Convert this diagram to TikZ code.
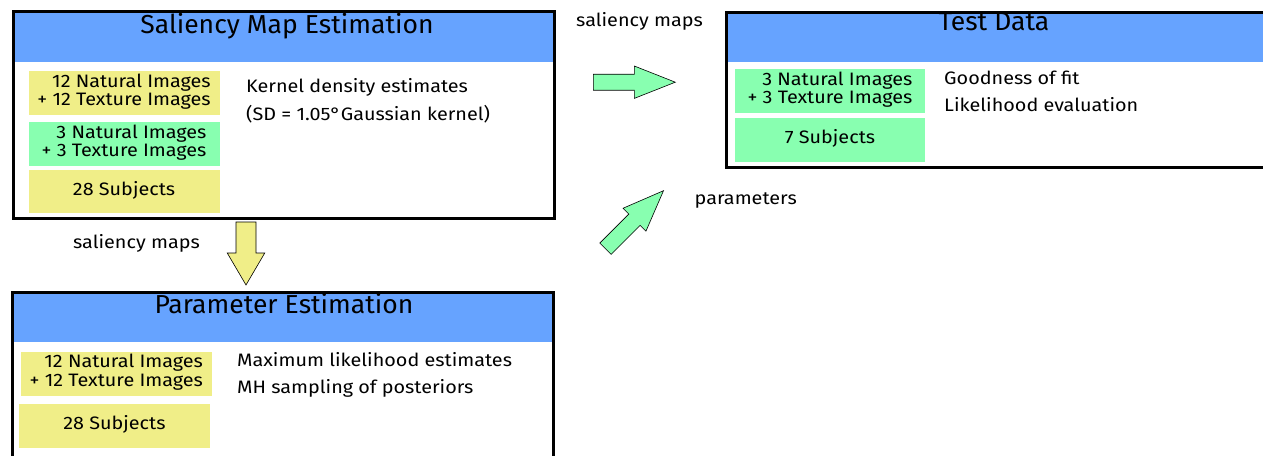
\documentclass[tikz,border=0pt]{standalone}
\usepackage{fontspec}
\setmainfont{Fira Sans}[FakeStretch=1.1]
\newfontfamily\titlefont{Fira Sans}[FakeStretch=1.02]
\definecolor{hdr}{RGB}{102,163,255}
\definecolor{ylw}{RGB}{240,238,136}
\definecolor{grn}{RGB}{136,255,176}
\begin{document}
\begin{tikzpicture}[x=1pt,y=-1pt,
  frame/.style={draw=black, line width=3pt, fill=white, inner sep=0pt, outer sep=0pt, anchor=north west,
    path picture={\fill[hdr] (path picture bounding box.north west) rectangle ([yshift=-#1]path picture bounding box.north east);}},
  titletext/.style={anchor=base, inner sep=0pt, font=\titlefont\fontsize{26}{30}\selectfont},
  bodytext/.style={anchor=base west, inner sep=0pt, font=\fontsize{18}{22}\selectfont},
  databox/.style={fill=#1, inner sep=0pt, outer sep=0pt, anchor=north west, align=right, text depth=7pt, font=\fontsize{18}{18.3}\selectfont},
  fatarrow/.pic={\path[pic actions] (0,-8) -- (41,-8) -- (41,-16.2) -- (82,0) -- (41,16.2) -- (41,8) -- (0,8) -- cycle;},
  downarrow/.pic={\path[pic actions] (0,-10) -- (31,-10) -- (31,-18.75) -- (63,0) -- (31,18.75) -- (31,10) -- (0,10) -- cycle;},
  arrowstyle/.style={fill=#1, draw=black, line width=0.6pt, line join=miter}
]
\useasboundingbox (0,0) rectangle (1263,455);
\clip (0,0) rectangle (1263,455);

% Saliency Map Estimation
\node[frame=50.5pt, minimum width=540.8pt, minimum height=207pt] (sal) at (13.2,11.5) {};
\node[titletext] (saltitle) at (287,33) {Saliency Map Estimation};
\node[databox=ylw, minimum width=191pt, minimum height=44pt] (saltrain) at (28.6,71) {12 Natural Images\\+ 12 Texture Images};
\node[databox=grn, minimum width=191pt, minimum height=44pt] (saltest) at (28.6,122) {3 Natural Images\\+ 3 Texture Images};
\node[databox=ylw, minimum width=191pt, minimum height=43pt, align=center] (salsubj) at (28.6,170) {28 Subjects};
\node[bodytext] (kde1) at (246,92.7) {Kernel density estimates};
\node[bodytext] (kde2) at (246,120.5) {(SD = 1.05°Gaussian kernel)};

% Test Data
\node[frame=50pt, minimum width=560pt, minimum height=155pt] (test) at (726,12) {};
\node[titletext] (testtitle) at (994,30.7) {Test Data};
\node[databox=grn, minimum width=190pt, minimum height=44pt] (testimg) at (735,69) {3 Natural Images\\+ 3 Texture Images};
\node[databox=grn, minimum width=190pt, minimum height=44pt, align=center] (testsubj) at (735,118) {7 Subjects};
\node[bodytext] (gof) at (944,84.3) {Goodness of fit};
\node[bodytext] (lik) at (944,111.7) {Likelihood evaluation};

% Parameter Estimation
\node[frame=49.5pt, minimum width=541.3pt, minimum height=200pt] (par) at (12.2,292.2) {};
\node[titletext] (partitle) at (284,313) {Parameter Estimation};
\node[databox=ylw, minimum width=191.3pt, minimum height=43.7pt] (parimg) at (20.7,352) {12 Natural Images\\+ 12 Texture Images};
\node[databox=ylw, minimum width=191pt, minimum height=43.7pt, align=center] (parsubj) at (19,404) {28 Subjects};
\node[bodytext] (mle) at (237,366) {Maximum likelihood estimates};
\node[bodytext] (mh) at (237,393.3) {MH sampling of posteriors};

% arrows and labels
\coordinate (a1) at (593.3,82.2);
\coordinate (a2) at (605.5,248.7);
\coordinate (a3) at (246,222);
\pic[arrowstyle=grn] at (a1) {fatarrow};
\pic[arrowstyle=grn, rotate=45] at (a2) {fatarrow};
\pic[arrowstyle=ylw, rotate=-90] at (a3) {downarrow};
\node[bodytext] (lblsal1) at (576,26.7) {saliency maps};
\node[bodytext] (lblsal2) at (73,248.3) {saliency maps};
\node[bodytext] (lblpar) at (694.5,204) {parameters};
\end{tikzpicture}
\end{document}
